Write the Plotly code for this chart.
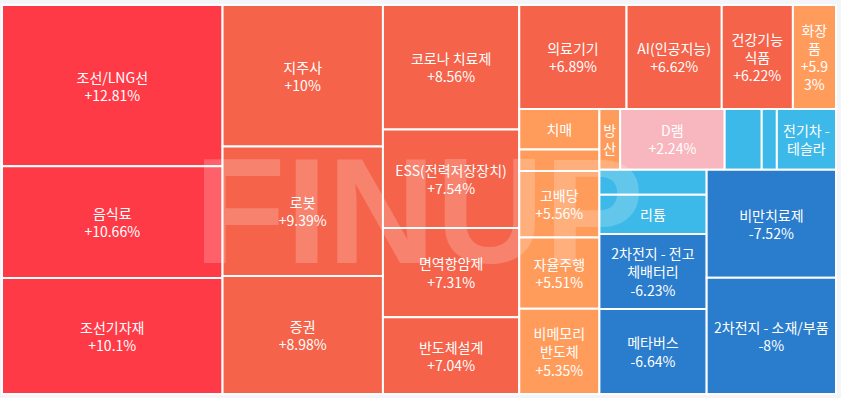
import plotly.graph_objects as go

# ---- data ----
themes = [
    "조선/LNG선", "음식료", "조선기자재",
    "지주사", "로봇", "증권",
    "코로나 치료제", "ESS(전력저장장치)", "면역항암제", "반도체설계",
    "의료기기", "AI(인공지능)", "건강기능식품", "화장품",
    "치매", "기타 테마 1", "고배당", "자율주행", "비메모리반도체",
    "방산", "D램", "기타 테마 2", "기타 테마 3", "전기차 - 테슬라",
    "기타 테마 4", "리튬", "2차전지 - 전고체배터리", "메타버스",
    "비만치료제", "2차전지 - 소재/부품",
]
changes = [
    12.81, 10.66, 10.1,
    10.0, 9.39, 8.98,
    8.56, 7.54, 7.31, 7.04,
    6.89, 6.62, 6.22, 5.93,
    5.8, 5.7, 5.56, 5.51, 5.35,
    4.1, 2.24, -1.3, -2.1, -2.9,
    -3.9, -4.8, -6.23, -6.64,
    -7.52, -8.0,
]
weights = [
    353.5, 244.9, 254.1,
    225.6, 206.4, 188.0,
    168.6, 133.3, 121.0, 104.0,
    111.0, 98.5, 73.6, 44.6,
    32.2, 17.0, 53.1, 56.8, 67.8,
    12.5, 62.9, 22.3, 9.1, 35.6,
    26.8, 41.7, 79.9, 90.7,
    138.9, 149.4,
]

# text as it is wrapped / clipped inside the small tiles
text_overrides = {
    "건강기능식품": "건강기능<br>식품<br>+6.22%",
    "화장품": "화장<br>품<br>+5.9<br>3%",
    "치매": "치매",
    "기타 테마 1": "",
    "비메모리반도체": "비메모리<br>반도체<br>+5.35%",
    "방산": "방<br>산",
    "기타 테마 2": "",
    "기타 테마 3": "",
    "전기차 - 테슬라": "전기차 -<br>테슬라",
    "기타 테마 4": "",
    "리튬": "리튬",
    "2차전지 - 전고체배터리": "2차전지 - 전고<br>체배터리<br>-6.23%",
}

BG = "#f3f5f9"


def pct(v):
    return f"{v:+g}%"


def color_for(v):
    if v > 10:
        return "#ff3a47"
    if v >= 6:
        return "#f5634a"
    if v >= 3:
        return "#ff9c5b"
    if v >= 0:
        return "#f8b6bf"
    if v > -6:
        return "#3cb9e8"
    return "#2a7ccc"


cell_text = [text_overrides.get(n, f"{n}<br>{pct(c)}") for n, c in zip(themes, changes)]
colors = [color_for(c) for c in changes]

fig = go.Figure(
    go.Treemap(
        ids=themes,
        labels=themes,
        parents=[""] * len(themes),
        values=weights,
        text=cell_text,
        textinfo="text",
        customdata=[pct(c) for c in changes],
        hovertemplate="%{label}<br>%{customdata}<extra></extra>",
        sort=False,
        tiling=dict(packing="squarify", squarifyratio=1.618034, pad=0),
        marker=dict(colors=colors, line=dict(color="white", width=2),
                    pad=dict(t=0, l=0, r=0, b=0)),
        textposition="middle center",
        textfont=dict(family="Noto Sans CJK KR", size=14, color="white"),
        pathbar=dict(visible=False),
        root=dict(color=BG),
    )
)

fig.add_annotation(
    text="<b>FINUP</b>",
    x=0.5, y=0.47, xref="paper", yref="paper",
    xanchor="center", yanchor="middle",
    showarrow=False,
    font=dict(family="Liberation Sans", size=150, color="rgba(255,255,255,0.2)"),
)

fig.update_layout(
    width=841, height=398,
    margin=dict(l=2, r=5, t=5, b=4),
    paper_bgcolor=BG,
    uniformtext=dict(minsize=14, mode="show"),
)

fig.write_html(
    "out.html",
    config={"displayModeBar": False},
    post_script="document.body.style.margin='0';document.body.style.background='" + BG + "';",
)
